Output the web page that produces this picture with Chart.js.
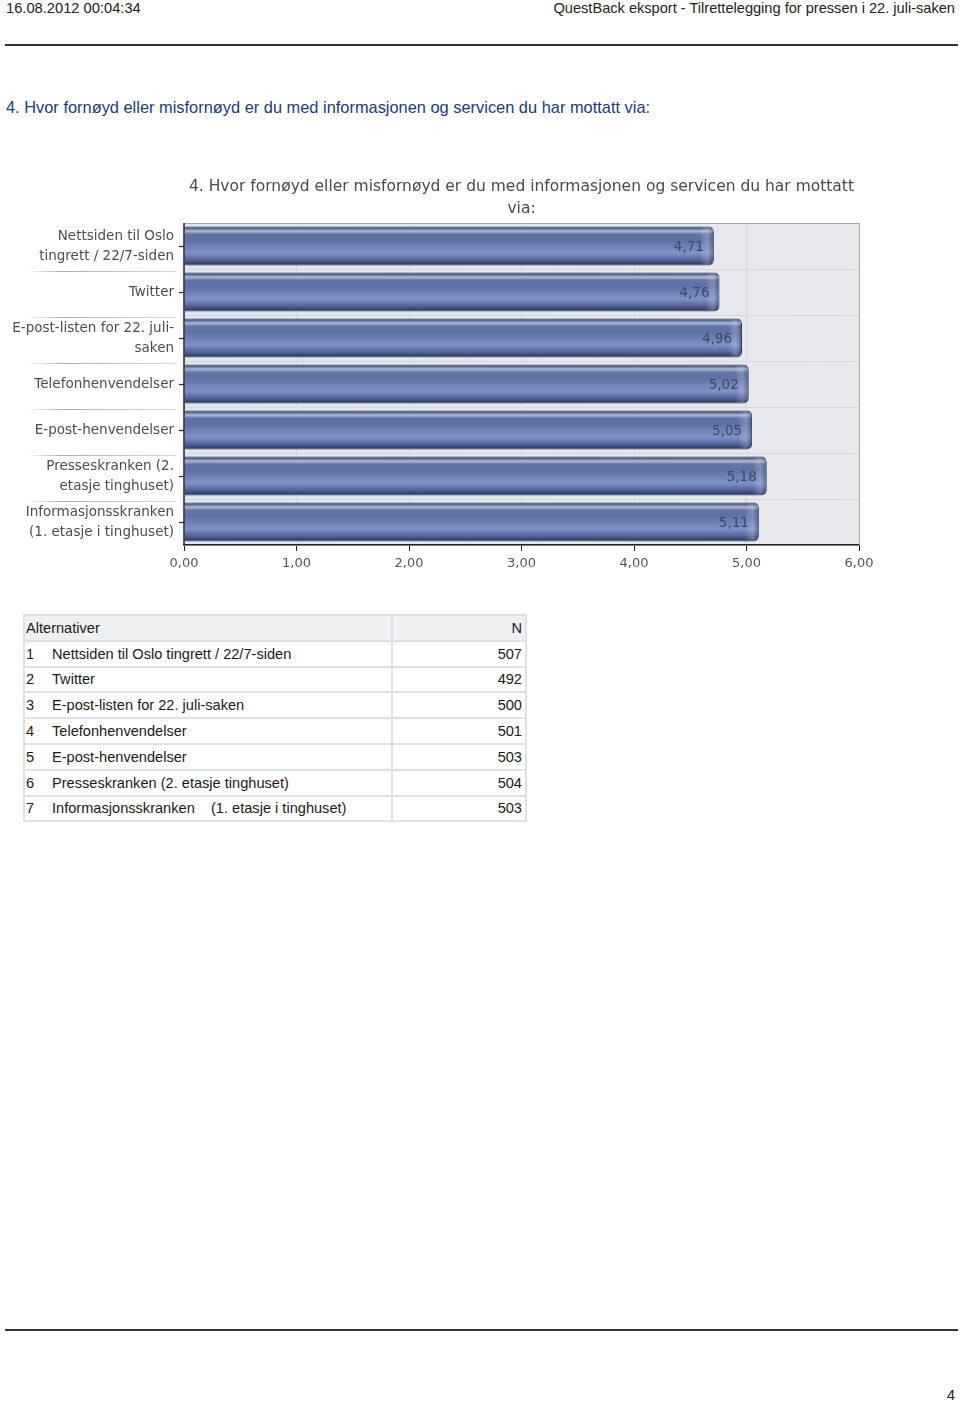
<!DOCTYPE html>
<html>
<head>
<meta charset="utf-8">
<script src="https://cdn.jsdelivr.net/npm/chart.js@4/dist/chart.umd.min.js"></script>
<style>
  body { margin: 0; width: 960px; height: 1403px; background: #fff; position: relative; font-family: "Liberation Sans", Arial, sans-serif; }
  .abs { position: absolute; white-space: nowrap; }
  #hdrLeft { left: 6px; top: 0px; font-size: 14.7px; line-height: 16px; color: #222; }
  #hdrRight { right: 5px; top: 0px; font-size: 14.6px; line-height: 16px; color: #222; }
  .rule { position: absolute; left: 5px; width: 953px; height: 2px; background: #333; }
  #question { left: 6px; top: 97px; font-size: 16.4px; line-height: 20px; color: #1d3b78; }
  #chartBox { position: absolute; left: 0; top: 160px; width: 960px; height: 430px; }
  #tbl { position: absolute; left: 23px; top: 614px; border-collapse: collapse; font-size: 14.6px; color: #1a1a1a; }
  #tbl td { border: 2px solid #dde1e5; height: 23.8px; padding: 0 3px 0 1px; }
  #tbl tr.head td { background: #eef0f2; }
  #tbl td.alt { width: 362px; }
  #tbl td.n { width: 128px; text-align: right; }
  #tbl span.num { display: inline-block; width: 26px; }
  #pageNo { right: 5px; top: 1386px; font-size: 15px; color: #222; }
</style>
</head>
<body>
<div class="abs" id="hdrLeft">16.08.2012 00:04:34</div>
<div class="abs" id="hdrRight">QuestBack eksport - Tilrettelegging for pressen i 22. juli-saken</div>
<div class="rule" style="top:44px"></div>
<div class="abs" id="question">4. Hvor fornøyd eller misfornøyd er du med informasjonen og servicen du har mottatt via:</div>
<div id="chartBox"><canvas id="myChart" width="960" height="430"></canvas></div>
<table id="tbl"></table>
<div class="rule" style="top:1329px"></div>
<div class="abs" id="pageNo">4</div>
<script>
// chart data
var chartTitle = ['4. Hvor fornøyd eller misfornøyd er du med informasjonen og servicen du har mottatt', 'via:'];
var categories = [
    ['Nettsiden til Oslo', 'tingrett / 22/7-siden'],
    ['Twitter'],
    ['E-post-listen for 22. juli-', 'saken'],
    ['Telefonhenvendelser'],
    ['E-post-henvendelser'],
    ['Presseskranken (2.', 'etasje tinghuset)'],
    ['Informasjonsskranken', '(1. etasje i tinghuset)']
];
var meanValues = [4.71, 4.76, 4.96, 5.02, 5.05, 5.18, 5.11];
var xMin = 0, xMax = 6, xStep = 1;

// table data
var tableHeader = ['Alternativer', 'N'];
var alternatives = [
    'Nettsiden til Oslo tingrett / 22/7-siden',
    'Twitter',
    'E-post-listen for 22. juli-saken',
    'Telefonhenvendelser',
    'E-post-henvendelser',
    'Presseskranken (2. etasje tinghuset)',
    'Informasjonsskranken\u00a0\u00a0\u00a0\u00a0(1. etasje i tinghuset)'
];
var counts = [507, 492, 500, 501, 503, 504, 503];

function fmt(v) {
    return v.toFixed(2).replace('.', ',');
}

function buildTable() {
    var tbl = document.getElementById('tbl');
    var html = '<tr class="head"><td class="alt">' + tableHeader[0] + '</td><td class="n">' + tableHeader[1] + '</td></tr>';
    for (var i = 0; i < alternatives.length; i++) {
        html += '<tr><td class="alt"><span class="num">' + (i + 1) + '</span>' + alternatives[i] + '</td><td class="n">' + counts[i] + '</td></tr>';
    }
    tbl.innerHTML = html;
}

var BAR_PCT = 0.85;

function barGradient(ctx) {
    var chart = ctx.chart;
    var area = chart.chartArea;
    if (!area || ctx.dataIndex == null) return '#6a7cae';
    var yc = chart.scales.y.getPixelForValue(ctx.dataIndex);
    var h = area.height / categories.length * BAR_PCT;
    var g = chart.ctx.createLinearGradient(0, yc - h / 2, 0, yc + h / 2);
    g.addColorStop(0, '#2f3a58');
    g.addColorStop(0.05, '#56658f');
    g.addColorStop(0.12, '#aeb9d5');
    g.addColorStop(0.2, '#6474a6');
    g.addColorStop(0.35, '#5f70a4');
    g.addColorStop(0.68, '#8092c5');
    g.addColorStop(0.86, '#53629a');
    g.addColorStop(1, '#262f4a');
    return g;
}

// plot background, frame, centre ticks, label separators, value labels
var decorPlugin = {
    id: 'decor',
    beforeDraw: function(chart) {
        var c = chart.ctx, a = chart.chartArea;
        var g = c.createLinearGradient(a.left, 0, a.right, 0);
        g.addColorStop(0, '#dfe5f1');
        g.addColorStop(0.5, '#e4e7ee');
        g.addColorStop(1, '#e8e9eb');
        c.save();
        c.fillStyle = g;
        c.fillRect(a.left, a.top, a.right - a.left, a.bottom - a.top);
        c.restore();
    },
    afterDatasetsDraw: function(chart) {
        var c = chart.ctx, a = chart.chartArea;
        var yScale = chart.scales.y;
        var meta = chart.getDatasetMeta(0);
        c.save();
        // end caps on bars
        meta.data.forEach(function(bar) {
            var h = bar.height;
            var g = c.createLinearGradient(bar.x - 14, 0, bar.x, 0);
            g.addColorStop(0, 'rgba(255,255,255,0)');
            g.addColorStop(0.55, 'rgba(210,220,245,0.25)');
            g.addColorStop(1, 'rgba(20,28,55,0.4)');
            c.fillStyle = g;
            c.beginPath();
            c.roundRect(bar.x - 14, bar.y - h / 2 + 1, 13, h - 2, [0, 5, 5, 0]);
            c.fill();
        });
        // value labels
        c.font = '13.5px "DejaVu Sans"';
        c.fillStyle = '#3d4869';
        c.textAlign = 'right';
        c.textBaseline = 'middle';
        meta.data.forEach(function(bar, i) {
            c.fillText(fmt(meanValues[i]), bar.x - 10, bar.y + 1);
        });
        // frame
        c.strokeStyle = '#a3a5a8';
        c.lineWidth = 1;
        c.beginPath();
        c.moveTo(a.left, a.top + 0.5);
        c.lineTo(a.right + 0.5, a.top + 0.5);
        c.lineTo(a.right + 0.5, a.bottom);
        c.stroke();
        c.strokeStyle = '#222';
        c.lineWidth = 1.5;
        c.beginPath();
        c.moveTo(a.left, a.top);
        c.lineTo(a.left, a.bottom);
        c.stroke();
        // y ticks at category centres
        c.lineWidth = 1.2;
        for (var i = 0; i < categories.length; i++) {
            var y = Math.round(yScale.getPixelForValue(i)) + 0.5;
            c.beginPath();
            c.moveTo(a.left - 5, y);
            c.lineTo(a.left, y);
            c.stroke();
        }
        // separators between category labels
        for (var j = 0; j < categories.length - 1; j++) {
            var yb = Math.round((yScale.getPixelForValue(j) + yScale.getPixelForValue(j + 1)) / 2) + 2.5;
            var lg = c.createLinearGradient(25, 0, 176, 0);
            lg.addColorStop(0, 'rgba(170,170,170,0)');
            lg.addColorStop(0.25, 'rgba(150,150,150,0.8)');
            lg.addColorStop(1, 'rgba(190,190,190,0.6)');
            c.strokeStyle = lg;
            c.lineWidth = 1;
            c.beginPath();
            c.moveTo(25, yb);
            c.lineTo(176, yb);
            c.stroke();
        }
        c.restore();
    }
};

function drawChart() {
    var ctx = document.getElementById('myChart').getContext('2d');
    var config = {
        type: 'bar',
        data: {
            labels: categories,
            datasets: [{
                data: meanValues,
                backgroundColor: barGradient,
                borderColor: '#2f3a58',
                borderWidth: 1,
                borderSkipped: 'start',
                borderRadius: 5,
                barPercentage: BAR_PCT,
                categoryPercentage: 1
            }]
        },
        options: {
            indexAxis: 'y',
            responsive: false,
            animation: false,
            layout: { padding: { left: 0, right: 101, top: 0, bottom: 0 } },
            plugins: {
                legend: { display: false },
                tooltip: { enabled: false },
                title: {
                    display: true,
                    text: chartTitle,
                    fullSize: false,
                    color: '#4a4a4a',
                    font: { family: 'DejaVu Sans', size: 15.5, weight: 'normal', lineHeight: '22px' },
                    padding: { top: 16, bottom: 3 }
                }
            },
            scales: {
                x: {
                    min: xMin,
                    max: xMax,
                    afterFit: function(scale) { scale.height = 45; },
                    ticks: {
                        stepSize: xStep,
                        color: '#555',
                        padding: 5,
                        font: { family: 'DejaVu Sans', size: 13 },
                        callback: function(v) { return fmt(v); }
                    },
                    grid: { color: '#d5d8dd', tickColor: '#222', tickLength: 6 },
                    border: { color: '#222', width: 1.5 }
                },
                y: {
                    afterFit: function(scale) { scale.width = 184; },
                    ticks: {
                        color: '#4d4d4d',
                        padding: 5,
                        font: { family: 'DejaVu Sans', size: 13.5, lineHeight: '20px' }
                    },
                    grid: { offset: true, color: '#d5d8dd', tickColor: 'rgba(0,0,0,0)', tickLength: 5 },
                    border: { display: false }
                }
            }
        },
        plugins: [decorPlugin]
    };
    new Chart(ctx, config);
}

window.addEventListener('load', function() {
    buildTable();
    drawChart();
});
</script>
</body>
</html>
